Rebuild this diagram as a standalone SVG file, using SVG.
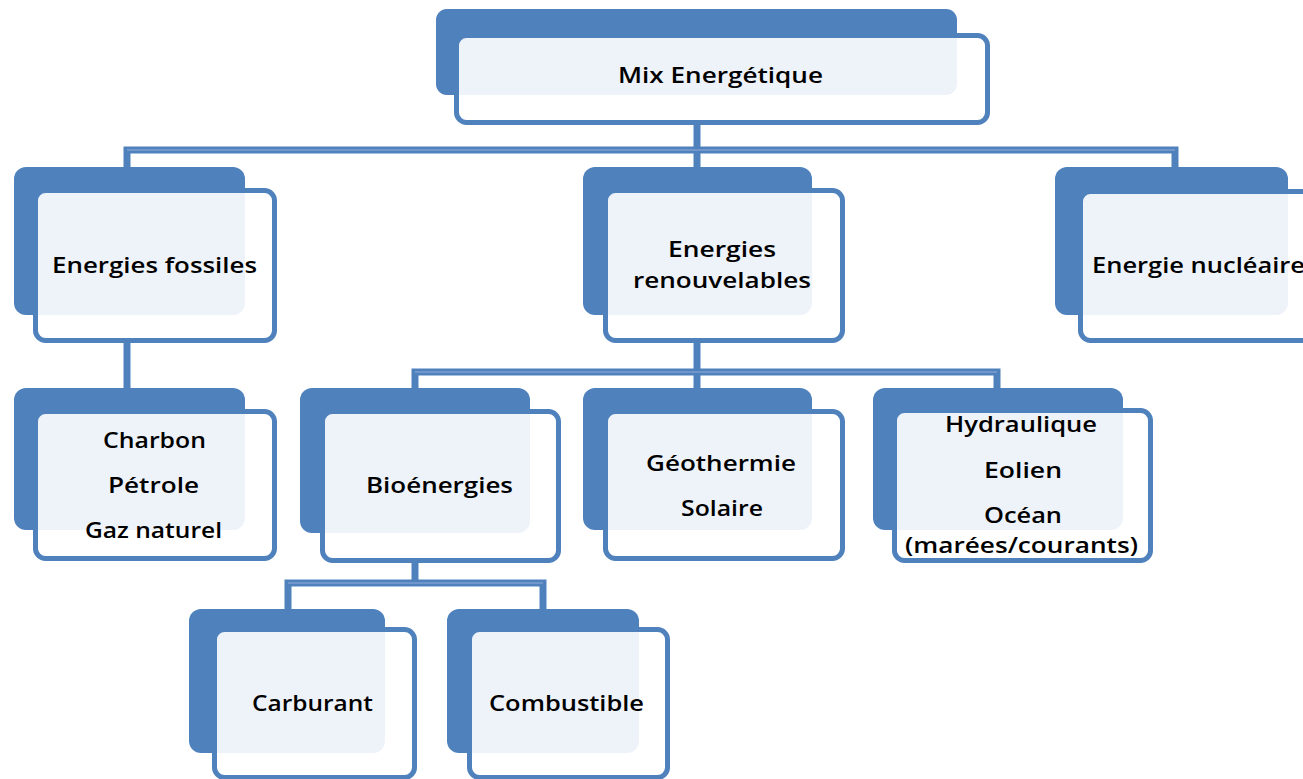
<svg xmlns="http://www.w3.org/2000/svg" width="1303" height="779" viewBox="0 0 1303 779">
<style>
.back{fill:#4f81bd}
.front{fill:#ffffff;fill-opacity:0.9;stroke:#4f81bd;stroke-width:5}
.co{fill:none;stroke:#4f81bd;stroke-width:7;stroke-linejoin:miter}
.ci{fill:none;stroke:#7196cc;stroke-width:2}
text{font-family:"Open Sans","Liberation Sans",Arial,sans-serif;font-weight:600;font-size:21px;fill:#000;text-anchor:middle}
</style>
<rect width="1303" height="779" fill="#ffffff"/>
<g id="connectors">
<path class="co" d="M697 125V150M127 167V150H1175V167M697 150V167"/>
<path class="co" d="M127 343V388"/>
<path class="co" d="M697 343V372M415 388V372H997V388M697 372V388"/>
<path class="co" d="M415 563V583M288 609V583H543V609"/>
<path class="ci" d="M127 150H1175M415 372H997M288 583H543"/>
</g>
<g id="n-mix">
<rect class="back" x="436" y="9" width="521" height="86" rx="11"/>
<rect class="front" x="456.5" y="35.5" width="531" height="87" rx="10"/>
<text x="720.5" y="83" textLength="205" lengthAdjust="spacingAndGlyphs">Mix Energétique</text>
</g>
<g id="n-fossiles">
<rect class="back" x="14" y="167" width="231" height="148" rx="12"/>
<rect class="front" x="35.5" y="190.5" width="239" height="150" rx="10"/>
<text x="154.5" y="273" textLength="205" lengthAdjust="spacingAndGlyphs">Energies fossiles</text>
</g>
<g id="n-renouvelables">
<rect class="back" x="583" y="167" width="229" height="148" rx="12"/>
<rect class="front" x="605.5" y="190.5" width="237" height="150" rx="10"/>
<text x="722" y="257" textLength="108" lengthAdjust="spacingAndGlyphs">Energies</text>
<text x="722" y="288" textLength="178" lengthAdjust="spacingAndGlyphs">renouvelables</text>
</g>
<g id="n-nucleaire">
<rect class="back" x="1055" y="167" width="233" height="148" rx="12"/>
<rect class="front" x="1080.5" y="191.5" width="240" height="149" rx="10"/>
<text x="1092" y="273" style="text-anchor:start" textLength="213" lengthAdjust="spacingAndGlyphs">Energie nucléaire</text>
</g>
<g id="n-fossil-list">
<rect class="back" x="14" y="388" width="231" height="142" rx="12"/>
<rect class="front" x="35.5" y="411.5" width="239" height="147" rx="10"/>
<text x="154.5" y="448" textLength="103" lengthAdjust="spacingAndGlyphs">Charbon</text>
<text x="153.5" y="493" textLength="91" lengthAdjust="spacingAndGlyphs">Pétrole</text>
<text x="153.5" y="538" textLength="137" lengthAdjust="spacingAndGlyphs">Gaz naturel</text>
</g>
<g id="n-bio">
<rect class="back" x="300" y="388" width="230" height="145" rx="12"/>
<rect class="front" x="322.5" y="411.5" width="236" height="149" rx="10"/>
<text x="439.5" y="493" textLength="147" lengthAdjust="spacingAndGlyphs">Bioénergies</text>
</g>
<g id="n-geo">
<rect class="back" x="583" y="388" width="229" height="142" rx="12"/>
<rect class="front" x="605.5" y="411.5" width="237" height="147" rx="10"/>
<text x="721" y="471" textLength="150" lengthAdjust="spacingAndGlyphs">Géothermie</text>
<text x="722" y="516" textLength="82" lengthAdjust="spacingAndGlyphs">Solaire</text>
</g>
<g id="n-hydro">
<rect class="back" x="873" y="388" width="250" height="142" rx="12"/>
<rect class="front" x="894.5" y="410.5" width="256" height="150" rx="10"/>
<text x="1021" y="432" textLength="152" lengthAdjust="spacingAndGlyphs">Hydraulique</text>
<text x="1023" y="478" textLength="78" lengthAdjust="spacingAndGlyphs">Eolien</text>
<text x="1023" y="523" textLength="78" lengthAdjust="spacingAndGlyphs">Océan</text>
<text x="1021.5" y="553" textLength="233" lengthAdjust="spacingAndGlyphs">(marées/courants)</text>
</g>
<g id="n-carburant">
<rect class="back" x="189" y="609" width="196" height="144" rx="12"/>
<rect class="front" x="214.5" y="629.5" width="200" height="148" rx="10"/>
<text x="312.5" y="711" textLength="121" lengthAdjust="spacingAndGlyphs">Carburant</text>
</g>
<g id="n-combustible">
<rect class="back" x="447" y="609" width="192" height="144" rx="12"/>
<rect class="front" x="469.5" y="629.5" width="198" height="148" rx="10"/>
<text x="566.5" y="711" textLength="155" lengthAdjust="spacingAndGlyphs">Combustible</text>
</g>
</svg>
